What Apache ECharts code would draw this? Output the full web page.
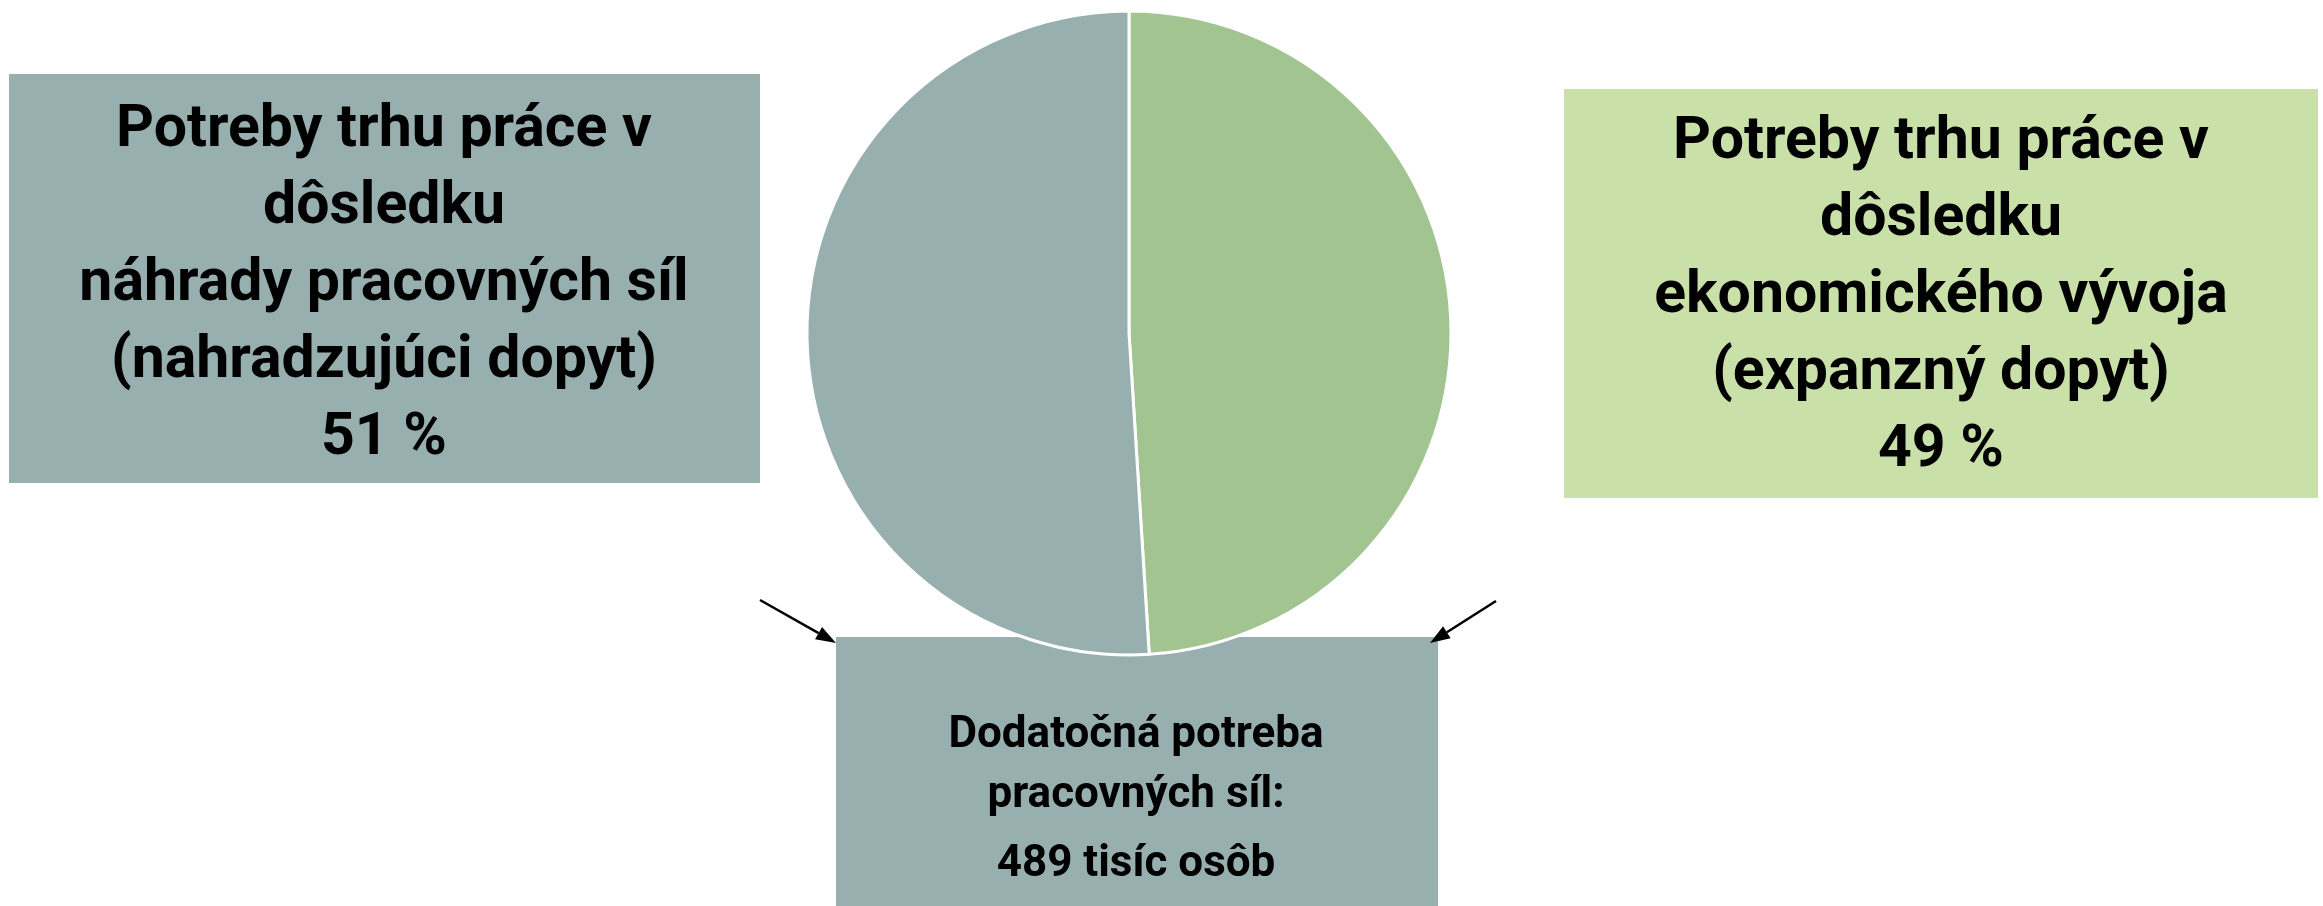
<!DOCTYPE html>
<html>
<head>
<meta charset="utf-8">
<script src="https://cdn.jsdelivr.net/npm/echarts@6/dist/echarts.min.js"></script>
<style>
  html, body { margin: 0; padding: 0; background: #fff; }
  #main_chart { width: 2323px; height: 906px; }
</style>
</head>
<body>
<div id="main_chart"></div>
<script>
// podiel zloziek dodatocnej potreby (v %), poradie v smere hodinovych ruciciek od vrchu
var categories = ['expanzný dopyt', 'nahradzujúci dopyt'];
var shares = [49, 51];
var sliceColors = ['#A2C490', '#98AFAF'];
var boxHeads = [
    'Potreby trhu práce v\ndôsledku\nekonomického vývoja',
    'Potreby trhu práce v\ndôsledku\nnáhrady pracovných síl'
];
var totalThousands = 489;

var FONT = '"Roboto", sans-serif';
var GREY = '#98AFAF';
var GREEN_LIGHT = '#C9E0A9';

function arrow(x1, y1, x2, y2) {
    // ciara so sipkou na konci (x2, y2)
    var dx = x2 - x1, dy = y2 - y1;
    var len = Math.sqrt(dx * dx + dy * dy);
    var ux = dx / len, uy = dy / len;
    var hl = 20, hw = 7;
    var bx = x2 - ux * hl, by = y2 - uy * hl;
    return [
        { type: 'line', shape: { x1: x1, y1: y1, x2: bx, y2: by }, style: { stroke: '#000', lineWidth: 2.5 } },
        { type: 'polygon', shape: { points: [[x2, y2], [bx - uy * hw, by + ux * hw], [bx + uy * hw, by - ux * hw]] }, style: { fill: '#000' } }
    ];
}

function boxLabel(i) {
    return boxHeads[i] + '\n(' + categories[i] + ')\n' + shares[i] + ' %';
}

var chart = echarts.init(document.getElementById('main_chart'));

var textStyle = { fill: '#000', fontFamily: FONT, fontWeight: 'bold', align: 'center', verticalAlign: 'middle' };

var graphics = [
    // lavy box - nahradzujuci dopyt
    { type: 'rect', shape: { x: 9, y: 74, width: 751, height: 409 }, style: { fill: GREY } },
    { type: 'text', x: 384, y: 285, style: Object.assign({ text: boxLabel(1), fontSize: 59, lineHeight: 77 }, textStyle) },
    // pravy box - expanzny dopyt
    { type: 'rect', shape: { x: 1564, y: 89, width: 754, height: 409 }, style: { fill: GREEN_LIGHT } },
    { type: 'text', x: 1941, y: 297, style: Object.assign({ text: boxLabel(0), fontSize: 59, lineHeight: 77 }, textStyle) },
    // spodny box - celkova potreba
    { type: 'rect', shape: { x: 836, y: 637, width: 602, height: 280 }, style: { fill: GREY } },
    { type: 'text', x: 1136, y: 766, style: Object.assign({ text: 'Dodatočná potreba\npracovných síl:', fontSize: 44, lineHeight: 60 }, textStyle) },
    { type: 'text', x: 1136, y: 865, style: Object.assign({ text: totalThousands + ' tisíc osôb', fontSize: 44 }, textStyle) }
].concat(arrow(760, 600, 836, 643), arrow(1496, 601, 1430, 643));

var option = {
    animation: false,
    graphic: { elements: graphics },
    series: [
        {
            type: 'pie',
            center: [1129, 333],
            radius: 322,
            startAngle: 90,
            clockwise: true,
            silent: true,
            label: { show: false },
            labelLine: { show: false },
            itemStyle: { borderColor: '#fff', borderWidth: 3 },
            data: categories.map(function (c, i) {
                return { name: c, value: shares[i], itemStyle: { color: sliceColors[i] } };
            })
        }
    ]
};

chart.setOption(option);
</script>
</body>
</html>
